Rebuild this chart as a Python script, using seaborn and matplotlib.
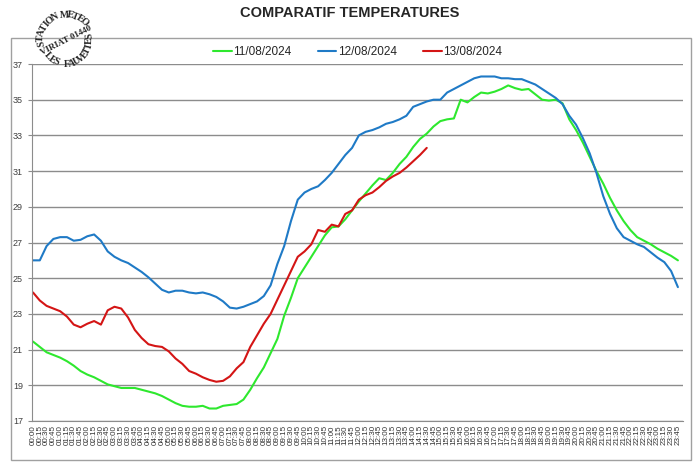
import numpy as np
import pandas as pd
import matplotlib
matplotlib.use("Agg")
import matplotlib.pyplot as plt
import seaborn as sns

# Heures (toutes les 15 minutes)
heures = [f"{h:02d}:{m:02d}" for h in range(24) for m in (0, 15, 30, 45)]

dates = ["11/08/2024", "12/08/2024", "13/08/2024"]
couleurs = ["#2ee82e", "#1f7ac6", "#d41515"]

# Températures relevées
temp_11 = [21.45, 21.15, 20.85, 20.7, 20.55, 20.35, 20.1, 19.8,
           19.6, 19.45, 19.25, 19.05, 18.95, 18.85, 18.85, 18.85,
           18.75, 18.65, 18.55, 18.4, 18.2, 18.0, 17.85, 17.8,
           17.8, 17.85, 17.7, 17.7, 17.85, 17.9, 17.95, 18.2,
           18.75, 19.4, 20.0, 20.8, 21.6, 22.9, 23.9, 25.0,
           25.6, 26.2, 26.8, 27.4, 27.85, 27.9, 28.3, 28.8,
           29.3, 29.75, 30.2, 30.6, 30.5, 30.9, 31.4, 31.8,
           32.35, 32.8, 33.1, 33.5, 33.8, 33.9, 33.95, 35.0,
           34.85, 35.15, 35.4, 35.35, 35.45, 35.6, 35.8, 35.65,
           35.55, 35.6, 35.3, 35.0, 34.95, 35.0, 34.8, 33.9,
           33.3, 32.6, 31.8, 31.0, 30.3, 29.5, 28.8, 28.2,
           27.7, 27.3, 27.1, 26.9, 26.65, 26.45, 26.25, 26.0]

temp_12 = [26.0, 26.0, 26.8, 27.2, 27.3, 27.3, 27.1, 27.15,
           27.35, 27.45, 27.1, 26.5, 26.2, 26.0, 25.85, 25.6,
           25.35, 25.05, 24.7, 24.35, 24.2, 24.3, 24.3, 24.2,
           24.15, 24.2, 24.1, 23.95, 23.7, 23.35, 23.3, 23.4,
           23.55, 23.7, 24.0, 24.6, 25.8, 26.8, 28.2, 29.4,
           29.8, 30.0, 30.15, 30.5, 30.9, 31.4, 31.9, 32.3,
           33.0, 33.2, 33.3, 33.45, 33.65, 33.75, 33.9, 34.1,
           34.6, 34.75, 34.9, 35.0, 35.0, 35.4, 35.6, 35.8,
           36.0, 36.2, 36.3, 36.3, 36.3, 36.2, 36.2, 36.15,
           36.15, 36.0, 35.85, 35.6, 35.35, 35.1, 34.75, 34.1,
           33.6, 32.85, 32.0, 30.9, 29.6, 28.6, 27.8, 27.3,
           27.1, 26.9, 26.75, 26.45, 26.15, 25.9, 25.4, 24.5]

temp_13 = [24.2, 23.75, 23.45, 23.3, 23.15, 22.85, 22.4, 22.25,
           22.45, 22.6, 22.4, 23.2, 23.4, 23.3, 22.8, 22.1,
           21.65, 21.3, 21.2, 21.15, 20.9, 20.5, 20.2, 19.8,
           19.65, 19.45, 19.3, 19.2, 19.25, 19.5, 19.95, 20.3,
           21.15, 21.8, 22.45, 23.0, 23.8, 24.6, 25.4, 26.2,
           26.5, 26.9, 27.7, 27.6, 28.0, 27.9, 28.6, 28.8,
           29.4, 29.65, 29.8, 30.1, 30.45, 30.7, 30.9, 31.2,
           31.55, 31.9, 32.3]

frames = []
for d, vals in zip(dates, [temp_11, temp_12, temp_13]):
    frames.append(pd.DataFrame({"idx": range(len(vals)),
                                "heure": heures[:len(vals)],
                                "temp": vals,
                                "date": d}))
df = pd.concat(frames, ignore_index=True)

sns.set_style("white")
plt.rcParams["font.family"] = ["Liberation Sans", "DejaVu Sans"]

W, H = 700, 470
fig = plt.figure(figsize=(7, 4.7), dpi=100)
ax = fig.add_axes([32 / W, 1 - 421 / H, 651 / W, 357 / H])

sns.lineplot(data=df, x="idx", y="temp", hue="date",
             palette=dict(zip(dates, couleurs)), linewidth=1.5, ax=ax)

ax.set_xlim(-0.15, 95.75)
ax.set_ylim(17, 37)
ax.set_yticks(range(17, 38, 2))
ax.set_xticks(range(len(heures)))
ax.set_xticklabels(heures)
ax.yaxis.grid(True, color="#8c8c8c", linewidth=1.0)
ax.xaxis.grid(False)
ax.set_xlabel("")
ax.set_ylabel("")
for s in ["top", "right"]:
    ax.spines[s].set_visible(False)
for s in ["left", "bottom"]:
    ax.spines[s].set_color("#8c8c8c")
ax.tick_params(axis="x", length=2, color="#a0a0a0", labelsize=5.8,
               labelrotation=90, pad=1, labelcolor="#333333")
ax.tick_params(axis="y", length=3, color="#8c8c8c", labelsize=6.5,
               pad=3.5, labelcolor="#404040", left=True)

handles, labels = ax.get_legend_handles_labels()
ax.legend(handles, labels, loc="center", bbox_to_anchor=(0.5, 1.034),
          ncol=3, frameon=False, fontsize=8.5, handlelength=1.6,
          handletextpad=0.1, columnspacing=2.2)

# Cadre du graphique
fig.add_artist(plt.Rectangle((11 / W, 1 - 460 / H), 680 / W, 422 / H,
                             transform=fig.transFigure, fill=False,
                             edgecolor="#a0a0a0", linewidth=1))

fig.text(0.5, 1 - 13 / H, "COMPARATIF TEMPERATURES", ha="center",
         va="center", fontsize=10.5, fontweight="bold")


# Tampon de la station
def texte_arc(texte, cx, cy, r, a0, a1, haut=True):
    angles = np.linspace(a0, a1, len(texte))
    for ch, a in zip(texte, angles):
        t = np.radians(a)
        x = cx + r * np.cos(t)
        y = cy + r * np.sin(t)
        rot = a - 90 if haut else a + 90
        fig.text(x / W, y / H, ch, rotation=rot, ha="center", va="center",
                 rotation_mode="anchor", fontsize=7.2, fontweight="bold",
                 family="Liberation Serif")


cx, cy = 66, H - 40
texte_arc("STATION METEO", cx, cy, 25, 188, 45, haut=True)
texte_arc("LES FAUVETTES", cx, cy, 24, 222, 370, haut=False)
fig.text(cx / W, cy / H, "VIRIAT 01440", rotation=27, ha="center",
         va="center", fontsize=6.5, fontweight="bold",
         family="Liberation Serif")

fig.savefig("out.png", dpi=100)
